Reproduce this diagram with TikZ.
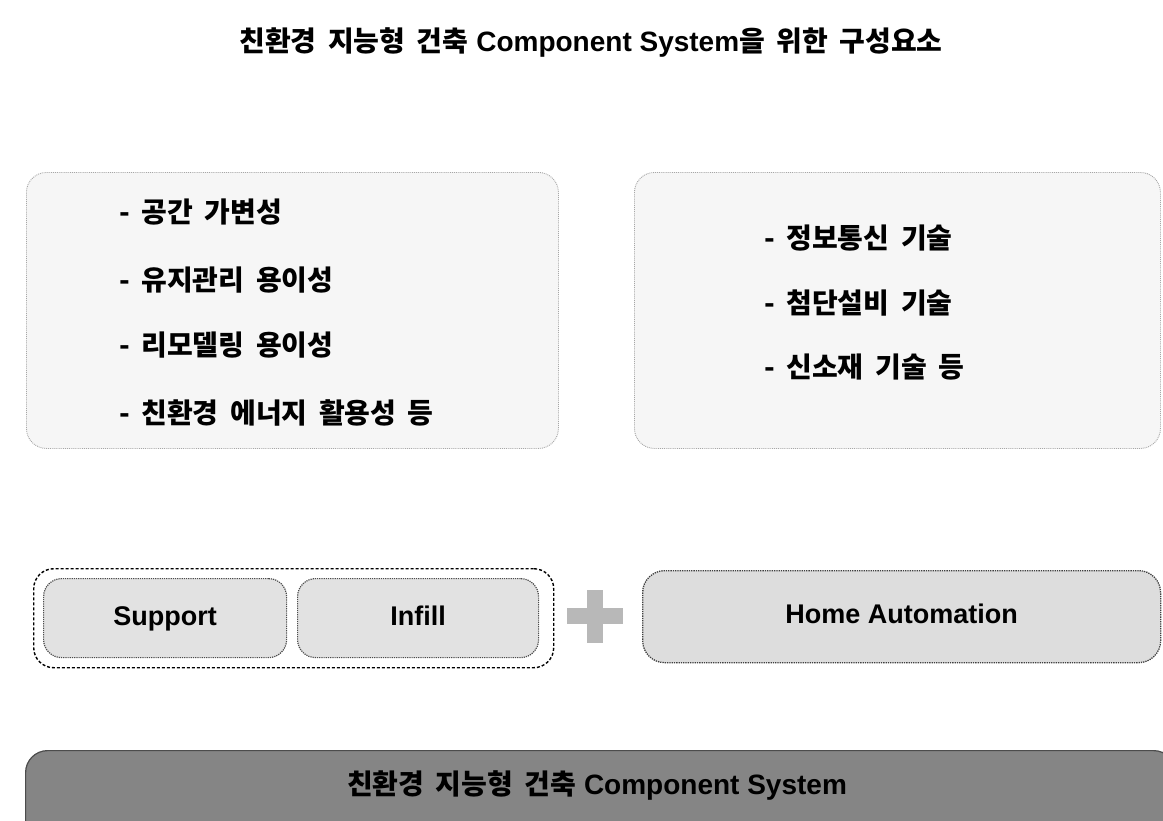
\documentclass[tikz,border=0pt]{standalone}
\usepackage{fontspec}
\setmainfont{Liberation Sans}
\newfontfamily\kr{Noto Sans CJK KR}[WordSpace=1.8]
\definecolor{barfill}{HTML}{858585}
\definecolor{panelfill}{HTML}{F6F6F6}
\definecolor{cellfill}{HTML}{E2E2E2}
\definecolor{homefill}{HTML}{DDDDDD}
\definecolor{plusfill}{HTML}{B8B8B8}
\newcommand{\K}[1]{{\kr\bfseries #1}}
\begin{document}
\begin{tikzpicture}[x=1pt,y=-1pt,
  panel/.style={draw=black!35, densely dotted, line width=0.9pt, fill=panelfill,
    rounded corners=20pt, anchor=north west, inner sep=0pt},
  item/.style={anchor=west, inner sep=0pt, font=\kr\bfseries\fontsize{28}{32}\selectfont},
  outerbox/.style={draw=black, densely dashed, line width=1.4pt, fill=white,
    rounded corners=20pt, anchor=north west, inner sep=0pt},
  cell/.style={draw=black!70, densely dotted, line width=1.2pt, fill=cellfill,
    rounded corners=18pt, anchor=north west, inner sep=0pt,
    text height=19pt, text depth=5pt,
    font=\bfseries\fontsize{27}{31}\selectfont},
  homebox/.style={draw=black!75, densely dotted, line width=1.3pt, fill=homefill,
    rounded corners=22pt, anchor=north west, inner sep=0pt,
    text height=19pt, text depth=5pt,
    font=\bfseries\fontsize{27}{31}\selectfont},
  barbox/.style={draw=black!70, line width=1.2pt, fill=barfill,
    rounded corners=22pt, anchor=north west, inner sep=0pt},
  titletext/.style={inner sep=0pt, font=\bfseries\fontsize{28}{32}\selectfont}
]
\useasboundingbox (0,0) rectangle (1163,820);
\fill[white] (0,0) rectangle (1163,820);

% title
\node[titletext] (title) at (591,42) {\K{친환경 지능형 건축} Component System\K{을 위한 구성요소}};

% top panels
\node[panel, minimum width=532pt, minimum height=276pt] (left) at (26,172) {};
\node[panel, minimum width=526pt, minimum height=276pt] (right) at (634,172) {};

\node[item] (l1) at (119,212) {- 공간 가변성};
\node[item] (l2) at (119,280) {- 유지관리 용이성};
\node[item] (l3) at (119,345) {- 리모델링 용이성};
\node[item] (l4) at (119,413) {- 친환경 에너지 활용성 등};

\node[item] (r1) at (764,238) {- 정보통신 기술};
\node[item] (r2) at (764,303) {- 첨단설비 기술};
\node[item] (r3) at (764,367) {- 신소재 기술 등};

% middle row
\node[outerbox, minimum width=520pt, minimum height=99pt] (group) at (33,568) {};
\node[cell, minimum width=243pt, minimum height=79pt] (support) at (43,578) {Support};
\node[cell, minimum width=241pt, minimum height=79pt] (infill) at (297,578) {Infill};

\fill[plusfill] (567,608) rectangle (623,624);
\fill[plusfill] (587,590) rectangle (603,643);

\node[homebox, minimum width=518pt, minimum height=92pt] (home) at (642,570) {Home Automation};

% bottom bar
\node[barbox, minimum width=1150pt, minimum height=110pt] (bar) at (25,750) {};
\node[titletext] (bartitle) at (597,785) {\K{친환경 지능형 건축} Component System};
\end{tikzpicture}
\end{document}
